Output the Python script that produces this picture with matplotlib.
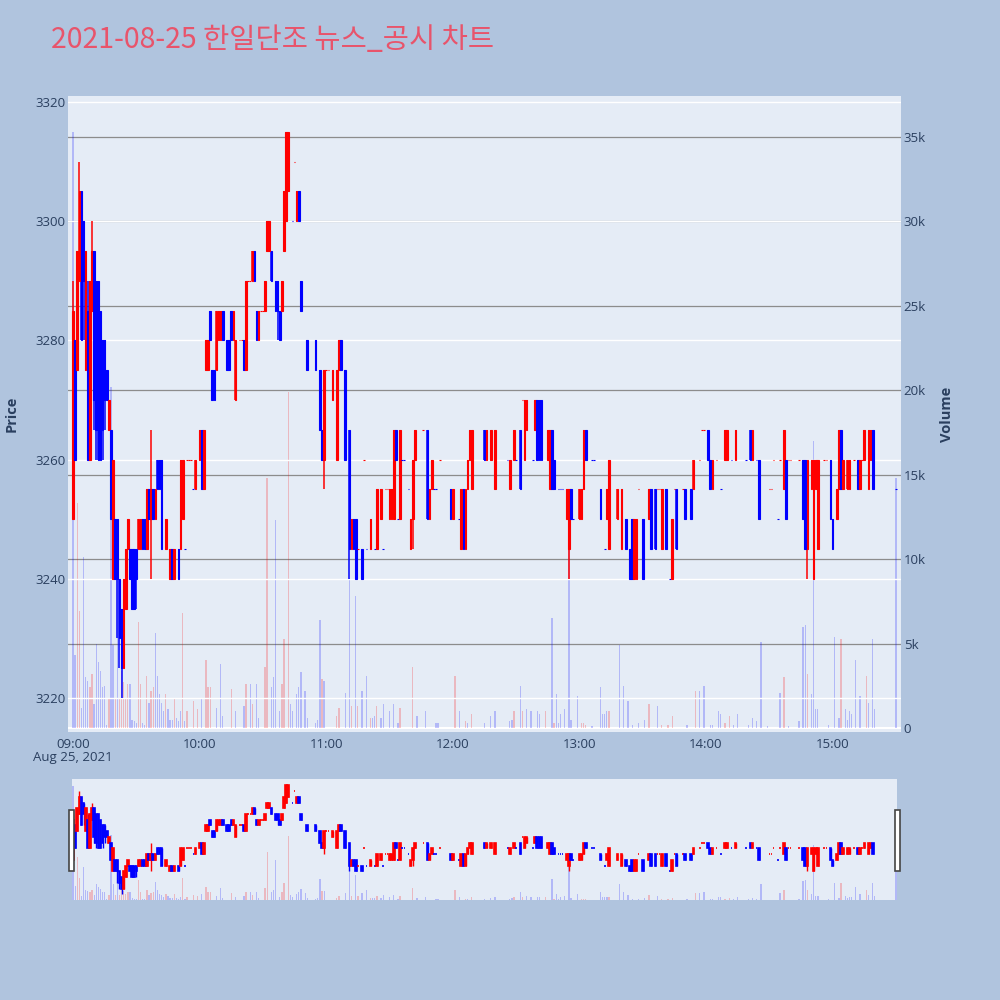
import matplotlib
matplotlib.use('Agg')
import matplotlib.pyplot as plt
from matplotlib.patches import Rectangle
from matplotlib.ticker import FuncFormatter

plt.rcParams['font.family'] = ['Open Sans', 'Noto Sans CJK KR', 'DejaVu Sans']

# minute bars, minutes counted from 09:00
minutes = [0, 1, 2, 3, 4, 5, 6, 7, 8, 9, 10, 11, 12, 13, 14, 15, 16, 17, 18, 19,
           20, 21, 22, 23, 24, 25, 26, 27, 28, 29, 30, 31, 32, 33, 34, 35, 36, 37, 38, 39,
           40, 41, 42, 44, 46, 47, 48, 50, 51, 52, 53, 54, 55, 56, 57, 58,
           60, 61, 62, 63, 64, 65, 66, 67, 68, 69, 70, 71, 73, 74, 75, 76, 77, 79, 80, 81,
           82, 83, 84, 85, 86, 87, 88, 89, 90, 91, 92, 93, 94, 96, 97, 98, 99, 100, 101, 102,
           104, 105, 106, 107, 108, 111, 115, 117, 118, 119, 120, 121, 123, 125, 126, 127, 129,
           131, 132, 133, 134, 135, 137, 138, 139, 141, 143, 144, 146, 147, 148, 149, 150, 151, 152, 153, 154, 155, 156, 157, 159,
           160, 161, 162, 166, 168, 169, 170, 171, 172, 174, 179, 180, 183, 184, 185, 186, 187, 188, 189,
           195, 196, 198, 200, 206, 207, 209, 210, 212, 213, 214, 215, 218, 219, 220, 221, 222, 225, 226, 227, 228,
           230, 231, 232, 234, 235, 236, 237, 240, 241, 242, 243, 246, 247, 250, 252, 253, 254, 258,
           260, 262, 264, 265, 266, 267, 268, 270, 273, 274, 276, 277, 278, 279, 281, 283, 284, 285, 286, 289,
           290, 293, 294, 297, 298, 299, 301, 302, 303, 305, 307, 309, 310, 312, 314,
           319, 321, 322, 324, 325, 330, 331, 332, 334, 335, 337, 338, 339, 340, 344, 346, 347, 348,
           350, 351, 352, 353, 356, 357, 359, 360, 362, 363, 364, 365, 367, 368, 370, 372, 373, 374, 375, 377, 378, 379, 390]

opens = [3250, 3280, 3275, 3290, 3305, 3300, 3275, 3285, 3260, 3285, 3295, 3290, 3290, 3285, 3280, 3280, 3275, 3265, 3265, 3240,
         3250, 3250, 3240, 3235, 3225, 3235, 3245, 3245, 3245, 3245, 3245, 3245, 3245, 3250, 3250, 3245, 3255, 3250, 3255, 3250,
         3260, 3260, 3260, 3245, 3240, 3245, 3240, 3245, 3245, 3250, 3245, 3260, 3260, 3260, 3255, 3255,
         3260, 3265, 3255, 3275, 3275, 3285, 3275, 3275, 3275, 3280, 3280, 3285, 3280, 3280, 3285, 3280, 3270, 3280, 3280, 3280,
         3275, 3290, 3290, 3290, 3295, 3285, 3280, 3285, 3285, 3285, 3295, 3295, 3295, 3290, 3290, 3285, 3285, 3295, 3300, 3305,
         3300, 3310, 3300, 3305, 3290, 3280, 3280, 3275, 3265, 3260, 3275, 3275, 3270, 3260, 3275, 3280, 3275,
         3265, 3245, 3250, 3250, 3245, 3245, 3260, 3245, 3245, 3245, 3245, 3250, 3245, 3255, 3255, 3250, 3250, 3250, 3265, 3250, 3250, 3260, 3260, 3255,
         3245, 3250, 3260, 3265, 3265, 3250, 3255, 3255, 3255, 3260, 3255, 3250, 3250, 3245, 3255, 3245, 3255, 3260, 3255,
         3265, 3260, 3260, 3255, 3260, 3255, 3260, 3260, 3265, 3270, 3260, 3265, 3260, 3265, 3270, 3270, 3270, 3260, 3255, 3265, 3260,
         3255, 3255, 3255, 3250, 3245, 3255, 3250, 3250, 3250, 3255, 3265, 3260, 3260, 3255, 3245, 3250, 3245, 3250,
         3245, 3250, 3245, 3250, 3240, 3240, 3255, 3250, 3250, 3255, 3255, 3255, 3255, 3245, 3255, 3240, 3240, 3255, 3255, 3255,
         3255, 3255, 3255, 3260, 3265, 3265, 3265, 3260, 3255, 3260, 3255, 3260, 3260, 3260, 3260,
         3260, 3265, 3260, 3260, 3260, 3255, 3255, 3260, 3250, 3260, 3255, 3260, 3260, 3260, 3260, 3260, 3260, 3245,
         3255, 3240, 3255, 3245, 3260, 3260, 3260, 3250, 3250, 3255, 3265, 3255, 3255, 3255, 3260, 3260, 3255, 3260, 3260, 3255, 3260, 3265, 3255]

highs = [3290, 3280, 3295, 3310, 3305, 3300, 3295, 3290, 3290, 3300, 3295, 3290, 3290, 3285, 3280, 3280, 3275, 3270, 3265, 3260,
         3250, 3250, 3240, 3235, 3240, 3245, 3250, 3245, 3245, 3245, 3245, 3250, 3250, 3250, 3250, 3255, 3255, 3265, 3255, 3255,
         3260, 3260, 3260, 3250, 3245, 3245, 3245, 3245, 3260, 3260, 3245, 3260, 3260, 3260, 3255, 3260,
         3265, 3265, 3265, 3280, 3280, 3285, 3275, 3275, 3285, 3285, 3285, 3285, 3280, 3280, 3285, 3285, 3280, 3280, 3280, 3280,
         3290, 3290, 3290, 3295, 3295, 3285, 3285, 3285, 3285, 3290, 3300, 3300, 3295, 3290, 3290, 3285, 3290, 3305, 3315, 3315,
         3300, 3310, 3305, 3305, 3290, 3280, 3280, 3275, 3265, 3275, 3275, 3275, 3275, 3275, 3280, 3280, 3275,
         3265, 3250, 3250, 3250, 3245, 3245, 3260, 3245, 3250, 3245, 3255, 3255, 3245, 3255, 3255, 3255, 3255, 3265, 3265, 3250, 3265, 3260, 3260, 3255,
         3250, 3260, 3265, 3265, 3265, 3255, 3260, 3255, 3255, 3260, 3255, 3255, 3250, 3255, 3255, 3255, 3260, 3265, 3265,
         3265, 3265, 3265, 3265, 3260, 3260, 3265, 3260, 3265, 3270, 3270, 3270, 3260, 3270, 3270, 3270, 3270, 3265, 3265, 3265, 3260,
         3255, 3255, 3255, 3255, 3255, 3255, 3250, 3255, 3255, 3265, 3265, 3260, 3260, 3255, 3245, 3255, 3260, 3255,
         3255, 3250, 3245, 3250, 3250, 3250, 3255, 3250, 3255, 3255, 3255, 3255, 3255, 3255, 3255, 3240, 3250, 3255, 3255, 3255,
         3255, 3255, 3260, 3260, 3265, 3265, 3265, 3260, 3260, 3260, 3255, 3265, 3265, 3260, 3265,
         3260, 3265, 3265, 3260, 3260, 3255, 3255, 3260, 3250, 3260, 3265, 3260, 3260, 3260, 3260, 3260, 3260, 3260,
         3260, 3260, 3260, 3260, 3260, 3260, 3260, 3250, 3255, 3265, 3265, 3260, 3260, 3260, 3260, 3260, 3260, 3260, 3265, 3265, 3265, 3265, 3255]

lows = [3250, 3260, 3275, 3290, 3280, 3280, 3275, 3260, 3260, 3285, 3265, 3260, 3260, 3260, 3260, 3265, 3270, 3265, 3250, 3240,
        3240, 3230, 3225, 3220, 3225, 3235, 3245, 3240, 3235, 3235, 3235, 3245, 3245, 3245, 3245, 3245, 3250, 3240, 3250, 3250,
        3255, 3255, 3245, 3245, 3240, 3240, 3240, 3240, 3245, 3250, 3245, 3260, 3260, 3260, 3255, 3255,
        3260, 3255, 3255, 3275, 3275, 3280, 3270, 3270, 3275, 3280, 3280, 3280, 3275, 3275, 3280, 3280, 3270, 3280, 3280, 3275,
        3275, 3290, 3290, 3290, 3290, 3280, 3280, 3285, 3285, 3285, 3295, 3295, 3290, 3285, 3280, 3280, 3285, 3295, 3300, 3305,
        3300, 3310, 3300, 3300, 3285, 3275, 3275, 3265, 3260, 3255, 3275, 3275, 3270, 3260, 3275, 3275, 3260,
        3240, 3245, 3245, 3240, 3245, 3240, 3260, 3245, 3245, 3245, 3245, 3250, 3245, 3255, 3255, 3250, 3250, 3250, 3260, 3250, 3250, 3260, 3260, 3255,
        3245, 3245, 3260, 3265, 3250, 3250, 3255, 3255, 3255, 3260, 3250, 3250, 3250, 3245, 3245, 3245, 3255, 3260, 3255,
        3260, 3260, 3260, 3255, 3260, 3255, 3260, 3260, 3255, 3270, 3260, 3265, 3260, 3265, 3260, 3260, 3260, 3260, 3255, 3255, 3255,
        3255, 3255, 3255, 3250, 3240, 3250, 3250, 3250, 3250, 3255, 3260, 3260, 3260, 3250, 3245, 3250, 3245, 3250,
        3245, 3245, 3240, 3240, 3240, 3240, 3255, 3240, 3250, 3245, 3245, 3255, 3255, 3245, 3245, 3240, 3240, 3255, 3245, 3255,
        3250, 3250, 3255, 3260, 3265, 3265, 3260, 3255, 3255, 3260, 3255, 3260, 3260, 3260, 3260,
        3260, 3260, 3260, 3260, 3250, 3255, 3255, 3260, 3250, 3260, 3255, 3250, 3260, 3260, 3260, 3250, 3245, 3240,
        3255, 3240, 3255, 3245, 3260, 3260, 3250, 3245, 3250, 3255, 3255, 3255, 3255, 3255, 3260, 3255, 3255, 3260, 3260, 3255, 3260, 3255, 3255]

closes = [3285, 3260, 3295, 3305, 3280, 3290, 3295, 3260, 3290, 3295, 3270, 3265, 3260, 3260, 3265, 3270, 3270, 3270, 3250, 3260,
          3240, 3240, 3230, 3225, 3240, 3245, 3250, 3240, 3235, 3235, 3240, 3250, 3250, 3245, 3245, 3255, 3250, 3255, 3250, 3255,
          3255, 3255, 3245, 3250, 3245, 3240, 3245, 3240, 3260, 3260, 3245, 3260, 3260, 3260, 3255, 3260,
          3265, 3255, 3265, 3280, 3280, 3280, 3270, 3270, 3285, 3285, 3285, 3280, 3275, 3275, 3280, 3285, 3280, 3280, 3280, 3275,
          3290, 3290, 3290, 3295, 3290, 3280, 3285, 3285, 3285, 3290, 3300, 3300, 3290, 3285, 3285, 3280, 3290, 3305, 3315, 3315,
          3300, 3310, 3305, 3300, 3285, 3275, 3275, 3265, 3260, 3275, 3275, 3275, 3275, 3275, 3280, 3275, 3260,
          3245, 3250, 3245, 3240, 3245, 3240, 3260, 3245, 3250, 3245, 3255, 3255, 3245, 3255, 3255, 3255, 3255, 3265, 3260, 3250, 3265, 3260, 3260, 3255,
          3250, 3260, 3265, 3265, 3250, 3255, 3260, 3255, 3255, 3260, 3250, 3255, 3250, 3255, 3245, 3255, 3260, 3265, 3265,
          3260, 3265, 3265, 3265, 3260, 3260, 3265, 3260, 3255, 3270, 3270, 3270, 3260, 3270, 3260, 3260, 3260, 3265, 3265, 3255, 3255,
          3255, 3255, 3255, 3255, 3255, 3250, 3250, 3255, 3255, 3265, 3260, 3260, 3260, 3250, 3245, 3255, 3260, 3255,
          3255, 3245, 3240, 3240, 3250, 3250, 3255, 3240, 3255, 3245, 3245, 3255, 3255, 3255, 3245, 3240, 3250, 3255, 3245, 3255,
          3250, 3250, 3260, 3260, 3265, 3265, 3260, 3255, 3260, 3260, 3255, 3265, 3265, 3260, 3265,
          3260, 3260, 3265, 3260, 3250, 3255, 3255, 3260, 3250, 3260, 3265, 3250, 3260, 3260, 3260, 3250, 3245, 3260,
          3260, 3260, 3260, 3260, 3260, 3260, 3250, 3245, 3255, 3265, 3255, 3260, 3260, 3260, 3260, 3255, 3260, 3260, 3265, 3265, 3265, 3255, 3255]

vol_minutes = [0, 1, 2, 3, 4, 5, 6, 7, 8, 9, 10, 11, 12, 13, 14, 15, 16, 17, 18, 19,
               20, 21, 22, 23, 24, 25, 26, 27, 28, 29, 30, 31, 32, 33, 34, 35, 36, 37, 38, 39,
               40, 41, 42, 43, 44, 45, 46, 47, 48, 49, 50, 51, 52, 53, 54, 57, 59, 61,
               63, 64, 65, 68, 70, 71, 75, 77, 81, 82, 84, 85, 87, 88, 91, 92, 94, 95, 96, 98, 99, 100,
               102, 103, 104, 106, 107, 108, 110, 111, 115, 116, 117, 118, 119, 125, 126, 129, 131, 132, 134, 135,
               137, 139, 141, 142, 143, 144, 146, 147, 150, 152, 154, 155, 161, 163, 167, 172, 173, 181, 183, 186,
               187, 189, 195, 198, 200, 207, 208, 209, 212, 213, 215, 217, 220, 221, 224, 227, 228, 229, 230, 231,
               233, 235, 236, 239, 241, 242, 243, 246, 250, 251, 252, 253, 254, 259, 261, 263, 265, 268, 271, 273,
               277, 279, 282, 284, 291, 295, 297, 299, 302, 303, 306, 307, 309, 311, 313, 315, 320, 322, 324, 326,
               329, 335, 337, 339, 344, 346, 347, 348, 350, 351, 352, 353, 358, 361, 363, 364, 366, 367, 368, 369,
               371, 373, 376, 377, 379, 380, 390]

volumes = [35300, 4300, 13300, 6900, 1200, 10100, 3000, 2800, 2400, 3200, 1400, 5000, 3900, 3400, 2400, 2500, 200, 1700, 20200, 4900,
           1700, 9000, 1700, 3400, 2700, 1800, 2600, 2600, 500, 400, 300, 6300, 2600, 300, 200, 3100, 1500, 2200, 2400, 5600,
           3100, 2000, 1500, 1000, 2000, 1100, 500, 500, 1800, 600, 400, 1000, 6800, 400, 1000, 1600, 1100, 1800,
           4000, 2400, 2400, 1200, 3800, 700, 2300, 1000, 1300, 2600, 2600, 1400, 2600, 600, 3600, 14800, 2400, 3000, 12300, 1000, 2600, 5300,
           19900, 1400, 1000, 2000, 2400, 3300, 2200, 600, 300, 500, 6400, 2900, 2800, 700, 1200, 2100, 8900, 1300, 7800, 1300,
           2200, 3100, 600, 600, 700, 1300, 600, 1400, 1000, 1400, 300, 1200, 3600, 700, 1000, 300, 300, 3100, 1000, 400,
           300, 800, 300, 700, 1000, 400, 500, 1000, 2500, 1000, 1100, 1000, 1000, 800, 1000, 6500, 300, 2000, 300, 800,
           1100, 10600, 500, 1900, 300, 300, 200, 100, 2400, 800, 800, 1000, 1000, 4900, 2500, 1600, 200, 300, 500, 1400,
           1300, 200, 200, 700, 200, 2200, 2200, 2500, 200, 200, 1000, 800, 300, 700, 200, 800, 200, 600, 400, 5100,
           100, 2100, 3000, 100, 400, 6000, 6100, 3200, 2000, 17000, 1100, 1100, 200, 5400, 600, 5300, 1100, 500, 1000, 800,
           4000, 1900, 3100, 1500, 5300, 1100, 14800]

vol_colors = ['b', 'b', 'r', 'r', 'b', 'b', 'b', 'b', 'r', 'r', 'b', 'b', 'b', 'b', 'b', 'b', 'b', 'r', 'b', 'b',
              'r', 'b', 'r', 'r', 'r', 'r', 'r', 'b', 'b', 'b', 'b', 'r', 'r', 'b', 'b', 'r', 'b', 'r', 'r', 'b',
              'b', 'b', 'b', 'b', 'r', 'b', 'b', 'b', 'r', 'b', 'b', 'b', 'r', 'b', 'r', 'r', 'r', 'b',
              'r', 'r', 'r', 'b', 'b', 'b', 'r', 'b', 'b', 'r', 'b', 'r', 'b', 'b', 'r', 'r', 'b', 'b', 'b', 'b', 'r', 'r',
              'r', 'b', 'b', 'b', 'b', 'b', 'b', 'b', 'b', 'b', 'b', 'r', 'b', 'r', 'r', 'b', 'b', 'r', 'b', 'r',
              'b', 'b', 'r', 'b', 'b', 'r', 'b', 'b', 'b', 'b', 'b', 'r', 'r', 'b', 'b', 'b', 'b', 'r', 'b', 'r',
              'b', 'r', 'b', 'b', 'b', 'b', 'b', 'r', 'b', 'r', 'b', 'b', 'b', 'b', 'r', 'b', 'r', 'b', 'b', 'b',
              'b', 'b', 'b', 'b', 'r', 'r', 'r', 'b', 'b', 'b', 'b', 'b', 'r', 'b', 'b', 'b', 'b', 'b', 'b', 'r',
              'b', 'r', 'r', 'r', 'b', 'r', 'b', 'b', 'b', 'b', 'b', 'b', 'r', 'r', 'b', 'b', 'b', 'b', 'b', 'b',
              'b', 'b', 'r', 'b', 'b', 'b', 'b', 'r', 'b', 'b', 'b', 'b', 'b', 'b', 'b', 'r', 'b', 'b', 'b', 'b',
              'b', 'b', 'r', 'b', 'b', 'b', 'b']

price_ticks = [3220, 3240, 3260, 3280, 3300, 3320]
vol_ticks = [0, 5000, 10000, 15000, 20000, 25000, 30000, 35000]
hour_labels = ['09:00', '10:00', '11:00', '12:00', '13:00', '14:00', '15:00']

BG = '#b0c4de'
PLOT_BG = '#e5ecf6'
TXT = '#2a3f5f'

# candle direction, plotly style: flat bars follow the previous close
up = []
prev_c, prev_up = None, True
for o, c in zip(opens, closes):
    if c > o:
        d = True
    elif c < o:
        d = False
    elif prev_c is None:
        d = prev_up
    else:
        d = True if c > prev_c else (False if c < prev_c else prev_up)
    up.append(d)
    prev_c, prev_up = c, d
cols = ['#ff0000' if d else '#0000ff' for d in up]
bottoms = [min(o, c) for o, c in zip(opens, closes)]
heights = [abs(c - o) for o, c in zip(opens, closes)]
vcols = [(1, 0, 0, 0.22) if v == 'r' else (0, 0, 1, 0.22) for v in vol_colors]


def draw(ax_p, ax_v, wick, edge):
    ax_v.bar(vol_minutes, volumes, width=0.6, color=vcols, linewidth=0)
    ax_p.vlines(minutes, lows, highs, colors=cols, linewidth=wick, zorder=3)
    ax_p.bar(minutes, heights, bottom=bottoms, width=0.75, color=cols,
             edgecolor=cols, linewidth=edge, zorder=4)


fig = plt.figure(figsize=(10, 10), dpi=100, facecolor=BG)

# main panel
rect = [0.068, 1 - 0.732, 0.833, 0.636]
ax_vol = fig.add_axes(rect, facecolor=PLOT_BG)
ax = fig.add_axes(rect, facecolor='none')
ax.set_zorder(ax_vol.get_zorder() + 1)

x0, x1 = -2.37, 392.4
ax.set_xlim(x0, x1)
ax_vol.set_xlim(x0, x1)
ax.set_ylim(3214.3, 3321.0)
ax_vol.set_ylim(-237, 37430)

for v in vol_ticks[1:]:
    ax_vol.axhline(v, color='#8c8c8c', linewidth=0.9, zorder=0.5)
ax_vol.axhline(0, color='white', linewidth=1.5, zorder=0.6)
for p in price_ticks:
    ax.axhline(p, color='white', linewidth=1.0, zorder=1)

draw(ax, ax_vol, 1.1, 0.8)

for a in (ax, ax_vol):
    for s in a.spines.values():
        s.set_visible(False)

ax.set_yticks(price_ticks)
ax.tick_params(axis='y', length=0, pad=2, labelsize=9.5, labelcolor=TXT)
ax.set_xticks([0, 60, 120, 180, 240, 300, 360])
ax.set_xticklabels(hour_labels)
ax.tick_params(axis='x', length=0, pad=4, labelsize=9.5, labelcolor=TXT)
ax.set_ylabel('Price', fontsize=10.5, fontweight='bold', color=TXT, labelpad=12)

ax_vol.yaxis.tick_right()
ax_vol.yaxis.set_label_position('right')
ax_vol.set_yticks(vol_ticks)
ax_vol.yaxis.set_major_formatter(FuncFormatter(lambda v, _: '0' if v == 0 else f'{int(v / 1000)}k'))
ax_vol.tick_params(axis='y', length=0, pad=2, labelsize=9.5, labelcolor=TXT)
ax_vol.set_xticks([])
ax_vol.set_ylabel('Volume', fontsize=10.5, fontweight='bold', color=TXT, labelpad=10)

fig.text(0.073, 1 - 0.758, 'Aug 25, 2021', ha='center', va='center', fontsize=9.5, color=TXT)

fig.text(0.051, 1 - 0.040, '2021-08-25 한일단조 뉴스_공시 차트', ha='left', va='center',
         fontsize=20.5, color='#e8546b', family=['Noto Sans CJK KR', 'DejaVu Sans'])

# range slider
srect = [0.072, 1 - 0.900, 0.825, 0.121]
sv = fig.add_axes(srect, facecolor=PLOT_BG)
sp = fig.add_axes(srect, facecolor='none')
sp.set_zorder(sv.get_zorder() + 1)
for a in (sv, sp):
    a.set_xlim(-0.5, 390.5)
    a.set_xticks([])
    a.set_yticks([])
    for s in a.spines.values():
        s.set_visible(False)
sp.set_ylim(3215, 3320.5)
sv.set_ylim(0, 37430)
draw(sp, sv, 1.0, 1.2)

for hx in (0.069, 0.895):
    fig.patches.append(Rectangle((hx, 1 - 0.871), 0.005, 0.061, transform=fig.transFigure,
                                 facecolor='white', edgecolor='#444444', linewidth=1.2, zorder=10))

fig.savefig('out.png', dpi=100, facecolor=BG)
plt.close(fig)
